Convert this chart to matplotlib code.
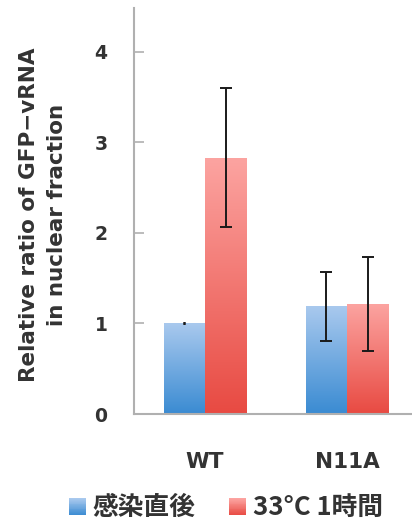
import matplotlib.pyplot as plt
import numpy as np
from matplotlib.patches import Rectangle
from matplotlib.legend_handler import HandlerBase
from matplotlib.colors import LinearSegmentedColormap

categories = ["WT", "N11A"]
series_names = ["感染直後", "33°C 1時間"]
before = [1.0, 1.19]      # 感染直後
before_err = [0.0, 0.38]
after = [2.83, 1.215]      # 33C 1h
after_err = [0.77, 0.52]
yticks = [0, 1, 2, 3, 4]

plt.rcParams['font.family'] = ['DejaVu Sans']

blue_cm = LinearSegmentedColormap.from_list("b", ["#3a8bd2", "#a9c9ee"])
red_cm = LinearSegmentedColormap.from_list("r", ["#e84a42", "#fca4a1"])

jp = ['Noto Sans CJK JP', 'DejaVu Sans']

fig = plt.figure(figsize=(4.12, 5.22), dpi=100)
ax = fig.add_axes([134/412, 108/522, 284/412, 406/522])

x = np.arange(len(categories))
w = 0.29
grad = np.linspace(0, 1, 256).reshape(-1, 1)

def gradient_bars(xs, vals, cmap):
    bars = ax.bar(xs, vals, w, color='none', edgecolor='none', zorder=2)
    for b in bars:
        im = ax.imshow(grad, cmap=cmap, origin='lower', aspect='auto',
                       extent=[b.get_x(), b.get_x() + b.get_width(), 0, b.get_height()],
                       zorder=2)
        im.set_clip_path(b)
    return bars

gradient_bars(x - w/2, before, blue_cm)
gradient_bars(x + w/2, after, red_cm)
for xs, vals, errs in [(x - w/2, before, before_err), (x + w/2, after, after_err)]:
    for xi, v, e in zip(xs, vals, errs):
        ax.errorbar(xi, v, yerr=e, fmt='none', ecolor='#1a1a1a', elinewidth=1.4,
                    capsize=4 if e > 0 else 1, capthick=1.4 if e > 0 else 2, zorder=3)

ax.set_xlim(-0.5, 1.5)
ax.set_ylim(0, 4.48)
ax.set_yticks(yticks)
ax.set_xticks(x)
ax.set_xticklabels(categories, fontsize=15.5, fontweight='bold', color='#333333')
ax.tick_params(axis='x', length=0, pad=27)
ax.tick_params(axis='y', direction='in', length=7, width=1.2, color='#b0b0b0',
               pad=19, labelsize=13.5, labelcolor='#333333')
for lab in ax.get_yticklabels():
    lab.set_fontweight('bold')
for s in ['top', 'right']:
    ax.spines[s].set_visible(False)
for s in ['left', 'bottom']:
    ax.spines[s].set_color('#b0b0b0')
    ax.spines[s].set_linewidth(1.5)

fig.text(43/412, 1 - 215/522, "Relative ratio of GFP\u2212vRNA\nin nuclear fraction",
         rotation=90, ha='center', va='center', multialignment='center',
         fontsize=15.5, fontweight='bold', color='#333333', linespacing=1.45)


class GradHandler(HandlerBase):
    def __init__(self, cmap):
        super().__init__()
        self.cmap = cmap

    def create_artists(self, legend, orig_handle, xd, yd, width, height, fontsize, trans):
        n = 20
        side = width
        y0 = -yd + (height - side) / 2 - 1
        arts = []
        for i in range(n):
            r = Rectangle((-xd, y0 + side*i/n), side, side/n + 0.3,
                          facecolor=self.cmap(i/(n-1)), edgecolor='none', transform=trans)
            arts.append(r)
        return arts


h1 = Rectangle((0, 0), 1, 1)
h2 = Rectangle((0, 0), 1, 1)
leg = fig.legend([h1, h2], series_names, loc='center', bbox_to_anchor=(226/412, 1 - 507/522),
                 ncol=2, frameon=False, handler_map={h1: GradHandler(blue_cm), h2: GradHandler(red_cm)},
                 prop={'family': jp, 'size': 18.5, 'weight': 'bold'}, handlelength=0.66,
                 handletextpad=0.25, columnspacing=1.3, borderpad=0, borderaxespad=0)
for t in leg.get_texts():
    t.set_color('#333333')

fig.savefig("out.png", dpi=100)
